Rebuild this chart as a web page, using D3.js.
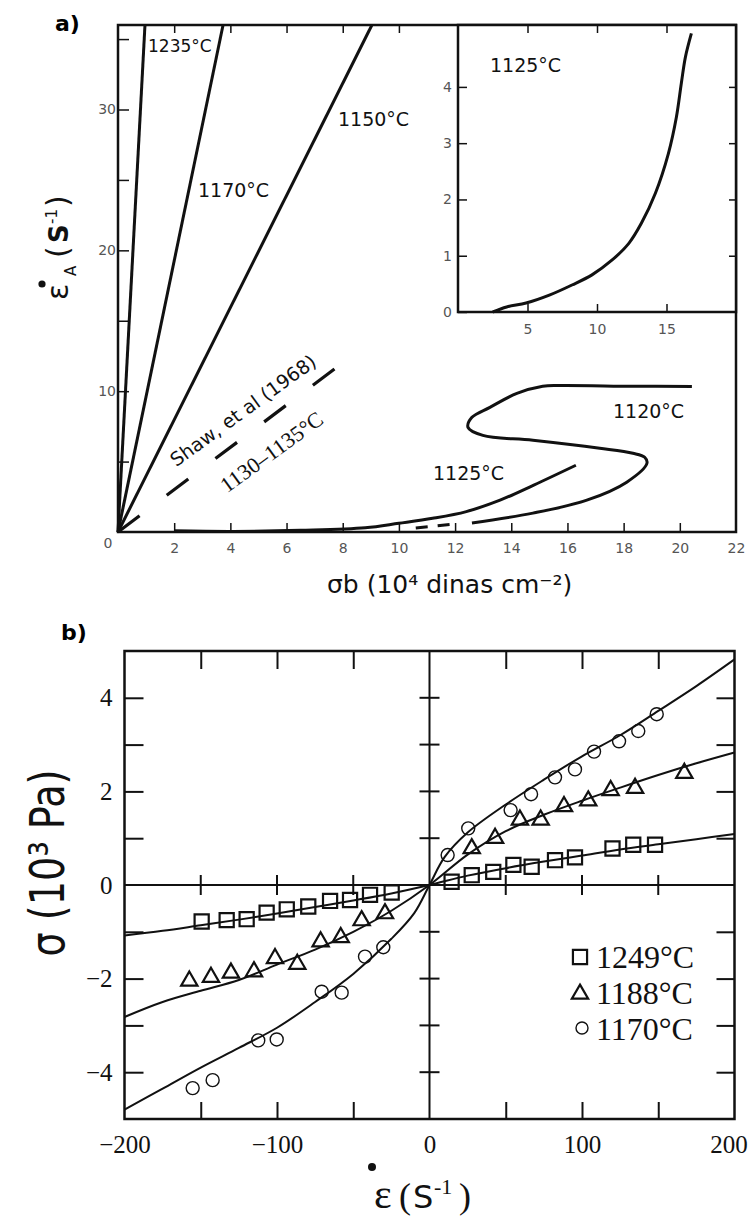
<!DOCTYPE html>
<html>
<head>
<meta charset="utf-8">
<script src="https://cdn.jsdelivr.net/npm/d3@7"></script>
<style>
body { margin:0; background:#fff; }
</style>
</head>
<body>
<svg class="fig" width="751" height="1222"></svg>
<script>
// ---- panel a data (sigma_b in 10^4 dinas/cm2, strain rate in 1/s) ----
var a_xticks = [2,4,6,8,10,12,14,16,18,20]
var a_xlabels = [2,4,6,8,10,12,14,16,18,20,22]
var a_yticks = [5,10,15,20,25,30,35]
var a_ylabels = [10,20,30]
var a_topticks = [2,4,6,8,10]

var line1235 = [[0,0],[0.96,36]]
var line1170 = [[0,0],[3.74,36]]
var line1150 = [[0,0],[9.04,36]]
var shaw1968 = [[0,0],[7.72,11.6]]

var curve1125 = [[2.0,0.08],[4.1,0.04],[6.5,0.12],[8.8,0.3],[10.0,0.62],[11.2,0.97],[12.4,1.45],[13.6,2.26],[14.8,3.33],[16.3,4.74]]
var curve1120 = [[12.6,0.64],[14.77,1.34],[16.69,2.26],[18.11,3.54],[18.83,4.88],[18.75,5.31],[18.33,5.59],[17.15,5.94],[14.77,6.51],[12.99,6.86],[12.46,7.43],[12.6,8.14],[13.24,8.85],[14.2,9.84],[15.12,10.35],[15.73,10.4],[18.33,10.35],[20.43,10.33]]
var curve1120dash = [[10.6,0.28],[12.0,0.57]]

// inset (same 1125 C run, zoomed)
var inset_xticks = [5,10,15]
var inset_yticks = [1,2,3,4]
var inset_ylabels = [0,1,2,3,4]
var inset1125 = [[2.5,0],[3.5,0.09],[4.9,0.16],[6.57,0.3],[8.2,0.48],[9.64,0.66],[11.07,0.92],[12.29,1.22],[13.2,1.58],[14.2,2.11],[15.14,2.82],[15.71,3.46],[16.07,4.07],[16.36,4.53],[16.79,4.95]]

// ---- panel b data (strain rate 1/s, stress 10^3 Pa) ----
var b_xticks = [-150,-100,-50,50,100,150]
var b_xlabels = [-200,-100,0,100,200]
var b_yticks = [-4,-3,-2,-1,1,2,3,4]
var b_ylabels = [-4,-2,0,2,4]

var pts1249 = [[-149.4,-0.78],[-133,-0.75],[-119.9,-0.73],[-106.8,-0.59],[-93.6,-0.52],[-79.5,-0.46],[-65.2,-0.34],[-52.1,-0.32],[-39,-0.21],[-24.8,-0.16],
               [14.5,0.07],[27.7,0.21],[41.8,0.28],[55,0.43],[67,0.39],[82.3,0.53],[95.4,0.59],[120,0.78],[133.6,0.86],[147.9,0.86]]
var pts1188 = [[-157.5,-2.05],[-143.3,-1.97],[-130.2,-1.88],[-115.1,-1.85],[-101.3,-1.57],[-86.7,-1.69],[-71.4,-1.21],[-58.2,-1.12],[-44.5,-0.76],[-29.2,-0.61],
               [27.7,0.78],[43,1.0],[59.3,1.39],[72.9,1.39],[88.2,1.68],[104.1,1.8],[118.8,2.02],[134.8,2.07],[167.1,2.39]]
var pts1170 = [[-155.3,-4.34],[-142.2,-4.17],[-112.3,-3.32],[-100.2,-3.3],[-70.7,-2.28],[-57.6,-2.3],[-42.3,-1.53],[-30.3,-1.33],
               [11.9,0.64],[25.4,1.21],[53.2,1.6],[66.6,1.94],[82.3,2.3],[95.4,2.47],[107.9,2.85],[124.3,3.07],[136.9,3.29],[149,3.65]]

var fit1249 = [[-200,-1.08],[-175,-0.98],[-150,-0.86],[-125,-0.74],[-100,-0.61],[-75,-0.47],[-50,-0.33],[-25,-0.18],[0,0],[25,0.2],[50,0.36],[75,0.5],[100,0.63],[125,0.76],[150,0.87],[175,0.98],[200,1.09]]
var fit1188 = [[-200,-2.82],[-175,-2.5],[-150,-2.26],[-125,-2.03],[-100,-1.7],[-75,-1.38],[-50,-1.0],[-25,-0.55],[0,0],[25,0.65],[50,1.15],[75,1.5],[100,1.8],[125,2.08],[150,2.35],[175,2.6],[200,2.83]]
var fit1170 = [[-200,-4.8],[-175,-4.35],[-150,-3.9],[-125,-3.48],[-100,-3.05],[-75,-2.5],[-50,-1.9],[-25,-1.15],[-10,-0.6],[0,0],[10,0.6],[25,1.12],[50,1.72],[75,2.25],[100,2.75],[125,3.2],[150,3.72],[175,4.25],[200,4.82]]

var legend_names = ["1249°C","1188°C","1170°C"]

var svg = d3.select('.fig')
var sans = "DejaVu Sans, Verdana, sans-serif"
var serif = "Liberation Serif, Times New Roman, serif"
var intf = d3.format('d')

// small helper: ticks only, no domain line
var draw_ticks = function(g, axis, width){
    g.call(axis)
    g.select('.domain').remove()
    g.selectAll('line').attr('stroke','#111').attr('stroke-width',width)
}
var draw_labels = function(g, axis, font, size, color){
    g.call(axis)
    g.select('.domain').remove()
    g.selectAll('line').remove()
    g.selectAll('text').attr('font-family',font).attr('font-size',size).attr('fill',color)
    return g
}

// =================== panel a ===================
var xa = d3.scaleLinear().domain([0,22]).range([118,736])
var ya = d3.scaleLinear().domain([0,36]).range([532,25])
var xi = d3.scaleLinear().domain([0,20]).range([458,736])
var yi = d3.scaleLinear().domain([0,5.1]).range([312,25])

var pa = svg.append('g').attr('id','panel_a')

pa.append('text').attr('x',55).attr('y',31).text('a)')
    .attr('font-family',sans).attr('font-size',22).attr('font-weight','bold')

draw_ticks(pa.append('g').attr('transform','translate(0,' + ya(0) + ')'),
    d3.axisBottom(xa).tickValues(a_xticks).tickSizeInner(-9).tickSizeOuter(0).tickFormat(''), 1.5)
draw_ticks(pa.append('g').attr('transform','translate(0,' + ya(36) + ')'),
    d3.axisTop(xa).tickValues(a_topticks).tickSizeInner(-8).tickSizeOuter(0).tickFormat(''), 1.5)
draw_ticks(pa.append('g').attr('transform','translate(' + xa(0) + ',0)'),
    d3.axisLeft(ya).tickValues(a_yticks).tickSizeInner(-11).tickSizeOuter(0).tickFormat(''), 1.5)

draw_labels(pa.append('g').attr('transform','translate(0,' + ya(0) + ')'),
    d3.axisBottom(xa).tickValues(a_xlabels).tickSize(0).tickPadding(11).tickFormat(intf), sans, 14, '#555')
draw_labels(pa.append('g').attr('transform','translate(' + (xa(0) - 1) + ',0)'),
    d3.axisLeft(ya).tickValues(a_ylabels).tickSize(0).tickPadding(1).tickFormat(intf), sans, 14, '#555')
pa.append('text').attr('x',xa(0) - 10).attr('y',ya(0) + 16).attr('text-anchor','middle')
    .attr('font-family',sans).attr('font-size',14).attr('fill','#555').text('0')

pa.append('rect').attr('x',xa(0)).attr('y',ya(36)).attr('width',xa(22) - xa(0)).attr('height',ya(0) - ya(36))
    .attr('fill','none').attr('stroke','#111').attr('stroke-width',2.5)

var lineA = d3.line().x(function(d){ return xa(d[0]) }).y(function(d){ return ya(d[1]) })
var curveA = d3.line().x(function(d){ return xa(d[0]) }).y(function(d){ return ya(d[1]) }).curve(d3.curveCatmullRom.alpha(0.5))

var straight = [line1235, line1170, line1150]
straight.forEach(function(l){
    pa.append('path').attr('d',lineA(l)).attr('fill','none').attr('stroke','#111').attr('stroke-width',3)
})
pa.append('path').attr('d',lineA(shaw1968)).attr('fill','none').attr('stroke','#111').attr('stroke-width',3.2)
    .attr('stroke-dasharray','27,34')
pa.append('path').attr('d',curveA(curve1125)).attr('fill','none').attr('stroke','#111').attr('stroke-width',3)
pa.append('path').attr('d',curveA(curve1120)).attr('fill','none').attr('stroke','#111').attr('stroke-width',3)
pa.append('path').attr('d',lineA(curve1120dash)).attr('fill','none').attr('stroke','#111').attr('stroke-width',3)
    .attr('stroke-dasharray','12,10')

var a_labels = [
    {t:'1235°C', x:148, y:52, s:17},
    {t:'1170°C', x:198, y:197, s:19},
    {t:'1150°C', x:338, y:126, s:19},
    {t:'1125°C', x:433, y:480, s:19},
    {t:'1120°C', x:613, y:418, s:19}
]
pa.selectAll('.clabel').data(a_labels).enter().append('text').attr('class','clabel')
    .attr('x',function(d){ return d.x }).attr('y',function(d){ return d.y })
    .attr('font-family',sans).attr('font-size',function(d){ return d.s }).attr('fill','#111')
    .text(function(d){ return d.t })

pa.append('text').attr('transform','translate(247,416) rotate(-36)').attr('text-anchor','middle')
    .attr('font-family',sans).attr('font-size',19).attr('fill','#111').text('Shaw, et al (1968)')
pa.append('text').attr('transform','translate(276,458) rotate(-36)').attr('text-anchor','middle')
    .attr('font-family',serif).attr('font-size',22).attr('fill','#111').text('1130–1135°C')

// axis titles a
pa.append('text').attr('x',327).attr('y',593).attr('font-family',sans).attr('font-size',25).attr('fill','#111')
    .text('σb (10⁴ dinas cm⁻²)')
var yt = pa.append('g').attr('transform','translate(68,300) rotate(-90)')
var ytt = yt.append('text').attr('font-family',sans).attr('fill','#111')
ytt.append('tspan').attr('x',0).attr('font-size',30).text('ε')
ytt.append('tspan').attr('x',24).attr('dy',8).attr('font-size',15).text('A')
ytt.append('tspan').attr('x',42).attr('dy',-8).attr('font-size',30).text('(')
ytt.append('tspan').attr('x',57).attr('font-size',26).attr('font-weight','bold').text('S')
ytt.append('tspan').attr('x',76).attr('dy',-11).attr('font-size',15).text('-1')
ytt.append('tspan').attr('x',93).attr('dy',11).attr('font-size',30).text(')')
pa.append('circle').attr('cx',42).attr('cy',284).attr('r',3.6).attr('fill','#111')

// inset
var ins = pa.append('g').attr('id','inset')
ins.append('rect').attr('x',xi(0)).attr('y',yi(5.1)).attr('width',xi(20) - xi(0)).attr('height',yi(0) - yi(5.1))
    .attr('fill','#fff').attr('stroke','none')
draw_ticks(ins.append('g').attr('transform','translate(0,' + yi(0) + ')'),
    d3.axisBottom(xi).tickValues(inset_xticks).tickSizeInner(-8).tickSizeOuter(0).tickFormat(''), 1.5)
draw_ticks(ins.append('g').attr('transform','translate(0,' + yi(5.1) + ')'),
    d3.axisTop(xi).tickValues(inset_xticks).tickSizeInner(-8).tickSizeOuter(0).tickFormat(''), 1.5)
draw_ticks(ins.append('g').attr('transform','translate(' + xi(0) + ',0)'),
    d3.axisLeft(yi).tickValues(inset_ylabels).tickSizeInner(-9).tickSizeOuter(0).tickFormat(''), 1.5)
draw_ticks(ins.append('g').attr('transform','translate(' + xi(20) + ',0)'),
    d3.axisRight(yi).tickValues(inset_yticks).tickSizeInner(-7).tickSizeOuter(0).tickFormat(''), 1.5)
draw_labels(ins.append('g').attr('transform','translate(0,' + yi(0) + ')'),
    d3.axisBottom(xi).tickValues(inset_xticks).tickSize(0).tickPadding(12).tickFormat(intf), sans, 14, '#555')
draw_labels(ins.append('g').attr('transform','translate(' + (xi(0) - 5) + ',0)'),
    d3.axisLeft(yi).tickValues(inset_ylabels).tickSize(0).tickPadding(1).tickFormat(intf), sans, 14, '#555')
ins.append('rect').attr('x',xi(0)).attr('y',yi(5.1)).attr('width',xi(20) - xi(0)).attr('height',yi(0) - yi(5.1))
    .attr('fill','none').attr('stroke','#111').attr('stroke-width',2.5)
var curveI = d3.line().x(function(d){ return xi(d[0]) }).y(function(d){ return yi(d[1]) }).curve(d3.curveCatmullRom.alpha(0.5))
ins.append('path').attr('d',curveI(inset1125)).attr('fill','none').attr('stroke','#111').attr('stroke-width',3)
ins.append('text').attr('x',490).attr('y',72).attr('font-family',sans).attr('font-size',19).attr('fill','#111').text('1125°C')

// =================== panel b ===================
var xb = d3.scaleLinear().domain([-200,200]).range([124.5,734.5])
var yb = d3.scaleLinear().domain([-5,5]).range([1119,651])

var pb = svg.append('g').attr('id','panel_b')
pb.append('text').attr('x',61).attr('y',640).text('b)')
    .attr('font-family',sans).attr('font-size',22).attr('font-weight','bold')

draw_ticks(pb.append('g').attr('transform','translate(0,' + yb(5) + ')'),
    d3.axisTop(xb).tickValues(b_xticks).tickSizeInner(-18).tickSizeOuter(0).tickFormat(''), 2)
draw_ticks(pb.append('g').attr('transform','translate(0,' + yb(-5) + ')'),
    d3.axisBottom(xb).tickValues(b_xticks).tickSizeInner(-17).tickSizeOuter(0).tickFormat(''), 2)
draw_ticks(pb.append('g').attr('transform','translate(' + xb(-200) + ',0)'),
    d3.axisLeft(yb).tickValues(b_yticks).tickSizeInner(-19).tickSizeOuter(0).tickFormat(''), 2)
draw_ticks(pb.append('g').attr('transform','translate(' + xb(200) + ',0)'),
    d3.axisRight(yb).tickValues(b_yticks).tickSizeInner(-18).tickSizeOuter(0).tickFormat(''), 2)

// crossing ticks on the zero lines
pb.selectAll('.xz').data(b_xticks).enter().append('line').attr('class','xz')
    .attr('x1',function(d){ return xb(d) }).attr('x2',function(d){ return xb(d) })
    .attr('y1',yb(0) - 10).attr('y2',yb(0) + 10).attr('stroke','#111').attr('stroke-width',2)
pb.selectAll('.yz').data(b_yticks).enter().append('line').attr('class','yz')
    .attr('x1',xb(0) - 10).attr('x2',xb(0) + 10)
    .attr('y1',function(d){ return yb(d) }).attr('y2',function(d){ return yb(d) }).attr('stroke','#111').attr('stroke-width',2)
pb.append('line').attr('x1',xb(-200)).attr('x2',xb(200)).attr('y1',yb(0)).attr('y2',yb(0)).attr('stroke','#111').attr('stroke-width',2)
pb.append('line').attr('x1',xb(0)).attr('x2',xb(0)).attr('y1',yb(5)).attr('y2',yb(-5)).attr('stroke','#111').attr('stroke-width',2)

var bx_lab = draw_labels(pb.append('g').attr('transform','translate(0,' + yb(-5) + ')'),
    d3.axisBottom(xb).tickValues(b_xlabels).tickSize(0).tickPadding(16), serif, 25, '#111')
// last label sits at the page edge, pull it in a little
bx_lab.selectAll('text').filter(function(d){ return d == 200 }).attr('dx',-6)
draw_labels(pb.append('g').attr('transform','translate(' + (xb(-200) - 12) + ',0)'),
    d3.axisLeft(yb).tickValues(b_ylabels).tickSize(0).tickPadding(0), serif, 25, '#111')

pb.append('rect').attr('x',xb(-200)).attr('y',yb(5)).attr('width',xb(200) - xb(-200)).attr('height',yb(-5) - yb(5))
    .attr('fill','none').attr('stroke','#111').attr('stroke-width',2.5)

var curveB = d3.line().x(function(d){ return xb(d[0]) }).y(function(d){ return yb(d[1]) }).curve(d3.curveCatmullRom.alpha(0.5))
var fits = [fit1249, fit1188, fit1170]
fits.forEach(function(f){
    pb.append('path').attr('d',curveB(f)).attr('fill','none').attr('stroke','#111').attr('stroke-width',2)
})

var sq = d3.symbol().type(d3.symbolSquare).size(200)
var tri = d3.symbol().type(d3.symbolTriangle).size(115)

pb.selectAll('.p1249').data(pts1249).enter().append('path').attr('class','p1249')
    .attr('transform',function(d){ return 'translate(' + xb(d[0]) + ',' + yb(d[1]) + ')' })
    .attr('d',sq).attr('fill','none').attr('stroke','#111').attr('stroke-width',2.2)
pb.selectAll('.p1188').data(pts1188).enter().append('path').attr('class','p1188')
    .attr('transform',function(d){ return 'translate(' + xb(d[0]) + ',' + yb(d[1]) + ')' })
    .attr('d',tri).attr('fill','none').attr('stroke','#111').attr('stroke-width',2.2)
pb.selectAll('.p1170').data(pts1170).enter().append('circle').attr('class','p1170')
    .attr('cx',function(d){ return xb(d[0]) }).attr('cy',function(d){ return yb(d[1]) })
    .attr('r',6.5).attr('fill','none').attr('stroke','#111').attr('stroke-width',1.4)

// legend
var leg = pb.append('g').attr('transform','translate(580,957)')
leg.append('path').attr('d',sq).attr('fill','none').attr('stroke','#111').attr('stroke-width',2.2)
leg.append('path').attr('transform','translate(0,37)').attr('d',tri).attr('fill','none').attr('stroke','#111').attr('stroke-width',2.2)
leg.append('circle').attr('cx',2).attr('cy',71).attr('r',6).attr('fill','none').attr('stroke','#111').attr('stroke-width',1.4)
leg.selectAll('.lt').data(legend_names).enter().append('text').attr('class','lt')
    .attr('x',16).attr('y',function(d,i){ return 11 + i * 36 })
    .attr('font-family',serif).attr('font-size',32).attr('fill','#111')
    .text(function(d){ return d })

// axis titles b
var xt = pb.append('text').attr('y',1208).attr('fill','#111').attr('font-family',serif)
xt.append('tspan').attr('x',374).attr('font-size',42).text('ε')
xt.append('tspan').attr('x',399).attr('font-size',36).text('(')
xt.append('tspan').attr('x',413).attr('font-family',sans).attr('font-size',32).text('S')
xt.append('tspan').attr('x',434).attr('dy',-14).attr('font-size',22).text('-1')
xt.append('tspan').attr('x',459).attr('dy',14).attr('font-size',36).text(')')
pb.append('circle').attr('cx',372).attr('cy',1167).attr('r',4).attr('fill','#111')

pb.append('text').attr('transform','translate(64,863) rotate(-90)').attr('text-anchor','middle')
    .attr('font-family',sans).attr('font-size',48).attr('fill','#111')
    .attr('textLength',187).attr('lengthAdjust','spacingAndGlyphs')
    .text('σ (10³  Pa)')
</script>
</body>
</html>
